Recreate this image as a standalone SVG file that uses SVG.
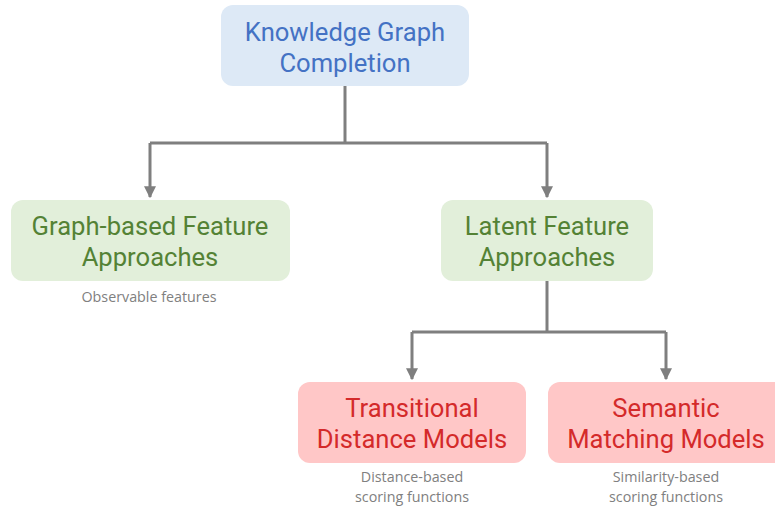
<svg xmlns="http://www.w3.org/2000/svg" width="775" height="510" viewBox="0 0 775 510">
  <defs>
    <marker id="arrow" viewBox="0 0 10 10" refX="9" refY="5" markerWidth="4" markerHeight="4" markerUnits="strokeWidth" orient="auto">
      <path d="M0,0 L10,5 L0,10 Z" fill="#7f7f7f"/>
    </marker>
    <style>
      .box-blue { fill: #dde9f6; }
      .box-green { fill: #e2efda; }
      .box-red { fill: #ffc7c7; }
      .title { font-family: Roboto, "Liberation Sans", sans-serif; font-size: 25.6px; text-anchor: middle; }
      .t-blue { fill: #4472c4; }
      .t-green { fill: #548235; }
      .t-red { fill: #d42a2a; }
      .note { font-family: "Open Sans", "Liberation Sans", sans-serif; font-size: 14.3px; fill: #808080; text-anchor: middle; }
      .link { fill: none; stroke: #7f7f7f; stroke-width: 3; }
    </style>
  </defs>
  <rect width="775" height="510" fill="#ffffff"/>

  <g id="connectors">
    <path class="link" d="M345,86 V143"/>
    <path class="link" d="M150,143 H547"/>
    <path class="link" d="M150,143 V197" marker-end="url(#arrow)"/>
    <path class="link" d="M547,143 V197" marker-end="url(#arrow)"/>
    <path class="link" d="M547,281 V332"/>
    <path class="link" d="M412,332 H666"/>
    <path class="link" d="M412,332 V379" marker-end="url(#arrow)"/>
    <path class="link" d="M666,332 V379" marker-end="url(#arrow)"/>
  </g>

  <g id="kgc">
    <rect class="box-blue" x="221" y="5" width="248" height="81" rx="12"/>
    <text class="title t-blue" x="345" y="41">Knowledge Graph</text>
    <text class="title t-blue" x="345" y="72">Completion</text>
  </g>

  <g id="graph-based">
    <rect class="box-green" x="11" y="200" width="279" height="81" rx="12"/>
    <text class="title t-green" x="150" y="235">Graph-based Feature</text>
    <text class="title t-green" x="150" y="266">Approaches</text>
    <text class="note" x="149" y="302">Observable features</text>
  </g>

  <g id="latent">
    <rect class="box-green" x="441" y="200" width="212" height="81" rx="12"/>
    <text class="title t-green" x="547" y="235">Latent Feature</text>
    <text class="title t-green" x="547" y="266">Approaches</text>
  </g>

  <g id="transitional">
    <rect class="box-red" x="298" y="382" width="228" height="81" rx="12"/>
    <text class="title t-red" x="412" y="417">Transitional</text>
    <text class="title t-red" x="412" y="448">Distance Models</text>
    <text class="note" x="412" y="482">Distance-based</text>
    <text class="note" x="412" y="502">scoring functions</text>
  </g>

  <g id="semantic">
    <rect class="box-red" x="548" y="382" width="240" height="81" rx="12"/>
    <text class="title t-red" x="666" y="417">Semantic</text>
    <text class="title t-red" x="666" y="448">Matching Models</text>
    <text class="note" x="666" y="482">Similarity-based</text>
    <text class="note" x="666" y="502">scoring functions</text>
  </g>
</svg>
